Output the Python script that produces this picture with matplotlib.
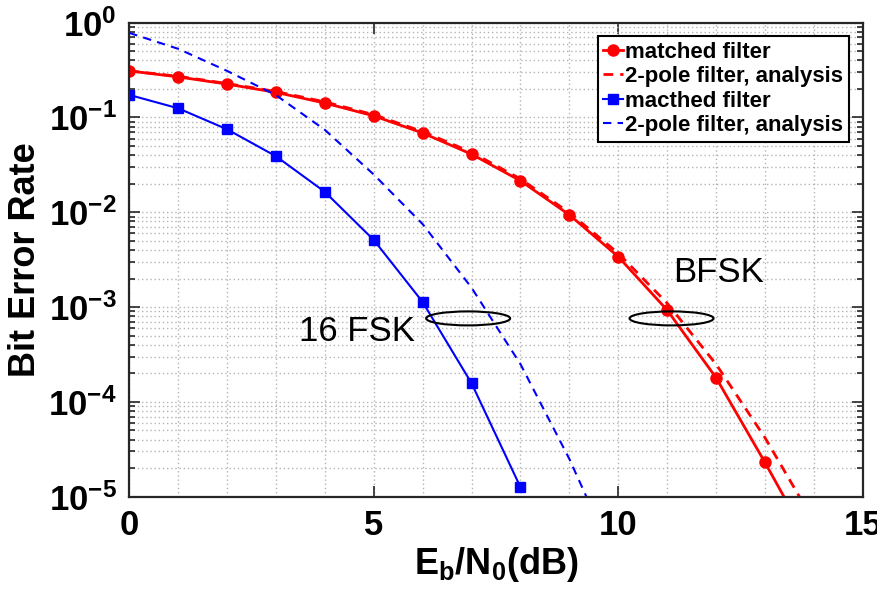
import math

import matplotlib
matplotlib.use("Agg")
import matplotlib.pyplot as plt
from matplotlib.patches import Ellipse
from matplotlib.ticker import LogLocator, MultipleLocator, FuncFormatter, NullFormatter

plt.rcParams['font.family'] = ['Liberation Sans', 'DejaVu Sans']
plt.rcParams['font.weight'] = 'bold'
plt.rcParams['mathtext.fontset'] = 'custom'
plt.rcParams['mathtext.rm'] = 'Liberation Sans:bold'
plt.rcParams['mathtext.it'] = 'Liberation Sans:bold'
plt.rcParams['mathtext.bf'] = 'Liberation Sans:bold'

# BFSK, matched filter (markers at 0..13 dB, curve runs on past the axis)
bfsk_snr = [0, 1, 2, 3, 4, 5, 6, 7, 8, 9, 10, 11, 12, 13, 14]
bfsk_ber = [0.31, 0.268, 0.225, 0.184, 0.142, 0.104, 0.0686, 0.041, 0.0215,
            0.0094, 0.0034, 9.3e-4, 1.8e-4, 2.3e-5, 2.7e-6]
# BFSK, 2-pole filter analysis
bfsk_2p_snr = [0, 1, 2, 3, 4, 5, 6, 7, 8, 9, 10, 11, 12, 13, 14]
bfsk_2p_ber = [0.31, 0.272, 0.228, 0.188, 0.146, 0.107, 0.071, 0.043, 0.0225,
               0.0099, 0.0037, 0.0011, 2.5e-4, 4.2e-5, 5.5e-6]
# 16FSK, matched filter
fsk16_snr = [0, 1, 2, 3, 4, 5, 6, 7, 8]
fsk16_ber = [0.173, 0.125, 0.075, 0.039, 0.0164, 0.0051, 1.13e-3, 1.57e-4, 1.26e-5]
# 16FSK, 2-pole filter analysis
fsk16_2p_snr = [0, 1, 2, 3, 4, 5, 6, 7, 8, 9, 10]
fsk16_2p_ber = [0.78, 0.53, 0.31, 0.172, 0.074, 0.025, 0.0075, 0.0016, 2.5e-4,
                2.5e-5, 1.8e-6]

legend_labels = ['matched filter', '2-pole filter, analysis',
                 'macthed filter', '2-pole filter, analysis']

# annotations: (text, x, y) and ellipse centres
notes = [('16 FSK', 4.65, 5.5e-4), ('BFSK', 12.05, 2.3e-3)]
ellipse_centres = [(6.93, 7.6e-4), (11.09, 7.6e-4)]

fig = plt.figure(figsize=(8.78, 5.94), dpi=100)
ax = fig.add_axes([0.1473, 0.1638, 0.8353, 0.798])

ax.plot(bfsk_snr, bfsk_ber, '-o', color='red', lw=2.0, ms=8,
        markevery=list(range(len(bfsk_snr) - 1)), label=legend_labels[0])
ax.plot(bfsk_2p_snr, bfsk_2p_ber, '--', color='red', lw=2.0,
        dashes=(3.5, 2.5), label=legend_labels[1])
ax.plot(fsk16_snr, fsk16_ber, '-s', color='blue', lw=1.5, ms=7,
        label=legend_labels[2])
ax.plot(fsk16_2p_snr, fsk16_2p_ber, '--', color='blue', lw=1.5,
        dashes=(4, 3), label=legend_labels[3])

ax.set_yscale('log')
ax.set_xlim(0, 15)
ax.set_ylim(1e-5, 1)

ax.xaxis.set_major_locator(MultipleLocator(5))
ax.xaxis.set_minor_locator(MultipleLocator(1))
ax.yaxis.set_major_locator(LogLocator(base=10, numticks=10))
ax.yaxis.set_minor_locator(LogLocator(base=10, subs=range(2, 10), numticks=20))
ax.yaxis.set_minor_formatter(NullFormatter())
ax.yaxis.set_major_formatter(FuncFormatter(
    lambda v, p: r'$\mathbf{10^{%d}}$' % round(math.log10(v))))

ax.grid(True, which='both', linestyle=(0, (1, 2)), color='#b4b4b4', lw=1.0)
ax.tick_params(which='both', direction='in', top=True, right=True,
               labelsize=25, width=1.2, color='#262626')
ax.tick_params(which='major', length=8, pad=9)
ax.tick_params(axis='y', which='minor', length=4)
ax.tick_params(axis='x', which='minor', length=0)
for s in ax.spines.values():
    s.set_linewidth(1.6)
    s.set_color('#262626')
for lab in ax.get_xticklabels():
    lab.set_fontweight('bold')

ax.set_xlabel(r'$\mathbf{E_b/N_0(dB)}$', fontsize=26, labelpad=2)
ax.set_ylabel('Bit Error Rate', fontsize=26, fontweight='bold')
ax.yaxis.set_label_coords(-0.118, 0.5)

for txt, x, y in notes:
    ax.text(x, y, txt, fontsize=25, fontweight='normal', ha='center',
            va='center')

fig.canvas.draw()
for x, y in ellipse_centres:
    cx, cy = ax.transAxes.inverted().transform(ax.transData.transform((x, y)))
    ax.add_patch(Ellipse((cx, cy), 0.1145, 0.0295, transform=ax.transAxes,
                         fill=False, ec='black', lw=1.5, zorder=5))

leg = ax.legend(loc='upper right', bbox_to_anchor=(0.9813, 0.9719),
                prop={'weight': 'bold', 'size': 16},
                handlelength=0.9, handletextpad=0.1, borderpad=0.25,
                labelspacing=0.16, borderaxespad=0, fancybox=False,
                framealpha=1, edgecolor='black')
leg.get_frame().set_linewidth(1.5)

fig.savefig('out.png', dpi=100)
